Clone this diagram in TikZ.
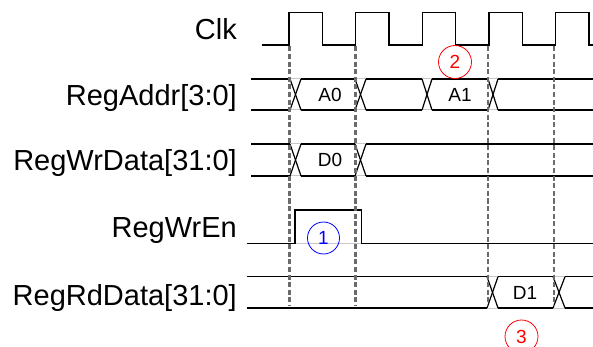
\documentclass[tikz,border=0pt]{standalone}
\usepackage{fontspec}
\setmainfont{Liberation Sans}
\begin{document}
\begin{tikzpicture}[x=1pt,y=-1pt,
  wave/.style={black,line width=1.2pt,line join=miter},
  ghost/.style={black!22,line width=1pt},
  guide/.style={black!58,line width=2.6pt,dash pattern=on 5pt off 2.6pt},
  siglabel/.style={anchor=base east,inner sep=0pt,font=\fontsize{29}{32}\selectfont},
  vallabel/.style={inner sep=0pt,font=\fontsize{19}{21}\selectfont},
  mark1/.style={circle,draw=blue,text=blue,line width=0.8pt,minimum size=32pt,inner sep=0pt,font=\fontsize{19}{21}\selectfont},
  mark2/.style={circle,draw=red,text=red,line width=0.8pt,minimum size=33pt,inner sep=0pt,font=\fontsize{19}{21}\selectfont}]
\useasboundingbox (0,0) rectangle (593,347);

% signal names
\node[siglabel] (lclk) at (237,40) {Clk};
\node[siglabel] (laddr) at (237,106) {RegAddr[3:0]};
\node[siglabel] (lwd) at (237,171) {RegWrData[31:0]};
\node[siglabel] (lwe) at (237,237.5) {RegWrEn};
\node[siglabel] (lrd) at (237,305) {RegRdData[31:0]};

% clock
\draw[wave] (261.7,45) -- (289,45)
  \foreach \k in {0,...,4} {
    -- ({289+66.67*\k},12.7) -- ({322.3+66.67*\k},12.7) -- ({322.3+66.67*\k},45)
    -- ({355.67+66.67*\k},45) }
  ;
\fill[white] (589.5,0) rectangle (593,60);
\draw[wave] (588.7,12.7) -- (588.7,45) -- (593,45);

% RegAddr bus (top 79, bottom 110)
\foreach \a/\b in {290/301,355/366,422/432,488/498} {
  \draw[ghost] (\a,79) -- (\b,79);
  \draw[ghost] (\a,110) -- (\b,110);
  \draw[wave] (\a,79) -- (\b,110);
  \draw[wave] (\a,110) -- (\b,79);
}
\foreach \a/\b in {251/290,301/355,366/422,432/488,498/593} {
  \draw[wave] (\a,79) -- (\b,79);
  \draw[wave] (\a,110) -- (\b,110);
}

% RegWrData bus (top 144, bottom 176)
\foreach \a/\b in {290/301,355/366} {
  \draw[ghost] (\a,144) -- (\b,144);
  \draw[ghost] (\a,176) -- (\b,176);
  \draw[wave] (\a,144) -- (\b,176);
  \draw[wave] (\a,176) -- (\b,144);
}
\foreach \a/\b in {251/290,301/355,366/593} {
  \draw[wave] (\a,144) -- (\b,144);
  \draw[wave] (\a,176) -- (\b,176);
}

% RegWrEn
\draw[ghost] (295,243.3) -- (361.7,243.3);
\draw[wave] (247,243.3) -- (295,243.3) -- (295,210) -- (361.7,210) -- (361.7,243.3) -- (593,243.3);

% RegRdData bus (top 276.7, bottom 308)
\foreach \a/\b in {487/498,553/565} {
  \draw[ghost] (\a,276.7) -- (\b,276.7);
  \draw[ghost] (\a,308) -- (\b,308);
  \draw[wave] (\a,276.7) -- (\b,308);
  \draw[wave] (\a,308) -- (\b,276.7);
}
\foreach \a/\b in {247/487,498/553,565/593} {
  \draw[wave] (\a,276.7) -- (\b,276.7);
  \draw[wave] (\a,308) -- (\b,308);
}

% guide lines
\foreach \x in {289.5,355.3,488,554} {
  \draw[guide] (\x,46.5) -- (\x,305);
}

% values
\node[vallabel] (va0) at (330,95) {A0};
\node[vallabel] (va1) at (460,95) {A1};
\node[vallabel] (vd0) at (330,160) {D0};
\node[vallabel] (vd1) at (525,293) {D1};

% markers
\node[mark1] (m1) at (323.5,238) {1};
\node[mark2] (m2) at (455,62) {2};
\node[mark2] (m3) at (521.5,336.5) {3};
\end{tikzpicture}
\end{document}
